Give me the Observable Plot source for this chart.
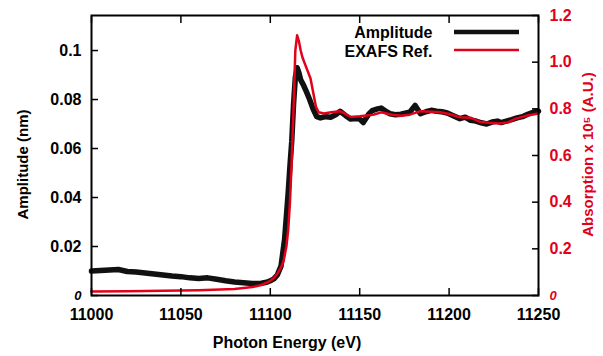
<!DOCTYPE html>
<html>
<head>
<meta charset="utf-8">
<script src="https://cdn.jsdelivr.net/npm/d3@7"></script>
<script src="https://cdn.jsdelivr.net/npm/@observablehq/plot@0.6"></script>
<style>
  html, body { margin: 0; padding: 0; background: white; }
</style>
</head>
<body>
<div id="chart"></div>
<script>
// Amplitude (nm) — black series (left axis)
const ampEnergy = [11000,11005,11010,11015,11020,11025,11030,11035,11040,11045,11050,11055,11060,11065,11070,11075,11080,11085,11090,11095,11098,11100,11102,11104,11106,11108,11110,11111,11112,11113,11114,11115,11116,11117,11118.5,11120,11122,11124,11126,11128,11131,11134,11137,11139,11142,11145,11148,11150,11152,11155,11157,11160,11162,11165,11167,11170,11173,11176,11178,11181,11184,11187,11190,11193,11196,11199,11202,11206,11209,11212,11215,11218,11221,11224,11227,11229,11232,11235,11238,11241,11244,11247,11250];
const amplitude = [0.0100,0.0102,0.0104,0.0106,0.0098,0.0096,0.0092,0.0088,0.0084,0.0080,0.0077,0.0072,0.0069,0.0072,0.0066,0.0060,0.0055,0.0052,0.0049,0.0050,0.0054,0.0060,0.0068,0.0085,0.0120,0.0230,0.0420,0.0530,0.0630,0.0780,0.0890,0.0930,0.0910,0.0880,0.0860,0.0835,0.0800,0.0760,0.0730,0.0725,0.0730,0.0728,0.0740,0.0752,0.0735,0.0720,0.0722,0.0720,0.0706,0.0740,0.0755,0.0762,0.0765,0.0750,0.0742,0.0738,0.0740,0.0745,0.0748,0.0776,0.0742,0.0750,0.0756,0.0752,0.0750,0.0745,0.0735,0.0722,0.0728,0.0715,0.0712,0.0705,0.0700,0.0708,0.0712,0.0706,0.0712,0.0718,0.0725,0.0730,0.0740,0.0748,0.0752];

// EXAFS reference absorption x 10^5 (A.U.) — red series (right axis)
const refEnergy = [11000,11020,11040,11060,11080,11090,11095,11098,11100,11102,11104,11106,11107.5,11109,11110,11111,11112,11113,11114,11115,11116,11117,11118,11120,11122.5,11124,11125.5,11127,11130,11134,11139,11142,11145,11150,11155,11158,11162,11165,11168,11173,11178,11184,11190,11195,11200,11206,11212,11217,11222,11228,11233,11237,11243,11250];
const absorption = [0.017,0.018,0.020,0.023,0.028,0.036,0.045,0.055,0.063,0.075,0.094,0.120,0.150,0.210,0.280,0.400,0.580,0.800,1.050,1.115,1.090,1.050,1.020,0.980,0.930,0.870,0.810,0.785,0.780,0.785,0.790,0.778,0.765,0.768,0.772,0.776,0.785,0.780,0.775,0.770,0.775,0.790,0.788,0.785,0.778,0.764,0.762,0.745,0.740,0.737,0.742,0.757,0.770,0.780];

// Ticks
const xTicks = [11000,11050,11100,11150,11200,11250];
const leftTicks = [0,0.02,0.04,0.06,0.08,0.1];
const rightTicks = [0,0.2,0.4,0.6,0.8,1.0,1.2];
const legendLabels = ["Amplitude","EXAFS Ref."];

const RED = "#e2001a";
const leftMax = 0.1143;
const rightMax = 1.2;
const k = leftMax / rightMax;

const ampData = ampEnergy.map((e,i) => ({e, v: amplitude[i]}));
const refData = refEnergy.map((e,i) => ({e, v: absorption[i] * k}));
const rightPos = rightTicks.map(v => v * k);

const fmtLeft = d => d === 0 ? "0" : (Math.abs(d - 0.1) < 1e-9 ? "0.1" : d.toFixed(2));
const fmtRight = d => { const v = d / k; return Math.abs(v) < 1e-9 ? "0" : v.toFixed(1); };
const blank = () => "";

const legendLines = (index, scales, values, dims) => {
  const g = d3.create("svg:g");
  const xr = dims.width - dims.marginRight;
  const y0 = dims.marginTop;
  g.append("line").attr("x1", xr - 84).attr("x2", xr - 19).attr("y1", y0 + 17).attr("y2", y0 + 17)
    .attr("stroke", "#111").attr("stroke-width", 4.5);
  g.append("line").attr("x1", xr - 84).attr("x2", xr - 19).attr("y1", y0 + 35).attr("y2", y0 + 35)
    .attr("stroke", RED).attr("stroke-width", 2.5);
  return g.node();
};

const chart = Plot.plot({
  width: 603,
  height: 356,
  marginLeft: 91,
  marginRight: 65,
  marginTop: 15,
  marginBottom: 61,
  x: {domain: [11000, 11250]},
  y: {domain: [0, leftMax]},
  style: {
    fontFamily: "'Liberation Sans', Arial, Helvetica, sans-serif",
    fontSize: "16px",
    fontWeight: "bold",
    color: "black",
    background: "white"
  },
  marks: [
    Plot.line(ampData, {x: "e", y: "v", stroke: "#111", strokeWidth: 5.5, strokeLinejoin: "round"}),
    Plot.line(refData, {x: "e", y: "v", stroke: RED, strokeWidth: 2.5, strokeLinejoin: "round"}),
    Plot.frame({stroke: "black", strokeWidth: 2}),
    Plot.axisX({ticks: xTicks, tickSize: -7, strokeWidth: 1.5, tickFormat: blank, label: null}),
    Plot.axisX({anchor: "top", ticks: xTicks, tickSize: -7, strokeWidth: 1.5, tickFormat: blank, label: null}),
    Plot.axisX({ticks: xTicks, tickSize: 0, tickPadding: 13, tickFormat: d => String(d), label: null}),
    Plot.axisY({ticks: leftTicks, tickSize: -7, strokeWidth: 1.5, tickFormat: blank, label: null}),
    Plot.axisY({ticks: leftTicks, tickSize: 0, tickPadding: 10, tickFormat: fmtLeft, label: null}),
    Plot.axisY({anchor: "right", ticks: rightPos, tickSize: -7, strokeWidth: 1.5, tickFormat: blank, label: null}),
    Plot.axisY({anchor: "right", ticks: rightPos, tickSize: 0, tickPadding: 11, tickFormat: fmtRight, fill: RED, label: null}),
    Plot.text(["Photon Energy (eV)"], {frameAnchor: "bottom", dx: -28, dy: 47, textAnchor: "middle", lineAnchor: "middle", fontSize: 16}),
    Plot.text(["Amplitude (nm)"], {frameAnchor: "left", rotate: -90, dx: -68, dy: 9, textAnchor: "middle", lineAnchor: "middle", fontSize: 15}),
    Plot.text(["Absorption x 10\u2075 (A.U.)"], {frameAnchor: "right", rotate: -90, dx: 50, dy: -1, textAnchor: "middle", lineAnchor: "middle", fill: RED, fontSize: 15}),
    Plot.text([legendLabels[0]], {frameAnchor: "top-right", dx: -106, dy: 17, textAnchor: "end", lineAnchor: "middle", fontSize: 16}),
    Plot.text([legendLabels[1]], {frameAnchor: "top-right", dx: -106, dy: 36, textAnchor: "end", lineAnchor: "middle", fontSize: 16}),
    legendLines
  ]
});

d3.select(chart).selectAll("text").each(function() {
  const t = d3.select(this);
  if (t.text() === "0") t.attr("font-style", "italic").attr("font-size", 13);
});

document.getElementById("chart").appendChild(chart);
</script>
</body>
</html>
